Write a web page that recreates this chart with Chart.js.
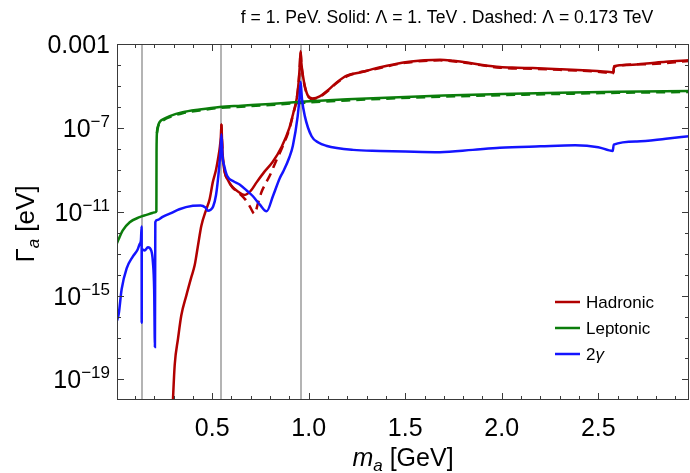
<!DOCTYPE html>
<html>
<head>
<meta charset="utf-8">
<script src="https://cdn.jsdelivr.net/npm/chart.js@4.4.1/dist/chart.umd.min.js"></script>
<style>
    body { margin: 0; background: #fff; }
    canvas { display: block; }
</style>
</head>
<body>
<canvas id="decayChart" width="690" height="473"></canvas>
<script>
/* Axion decay widths vs mass. Masses in GeV, widths stored as log10(Gamma / eV) */
const hadronicMass = [0.294, 0.297, 0.306, 0.323, 0.340, 0.366, 0.392, 0.409, 0.418, 0.432,
    0.444, 0.470, 0.487, 0.503, 0.520, 0.530, 0.540, 0.545, 0.548, 0.551,
    0.556, 0.565, 0.585, 0.606, 0.635, 0.668, 0.700, 0.730, 0.770, 0.813,
    0.860, 0.900, 0.920, 0.938, 0.948, 0.954, 0.958, 0.962, 0.970, 0.980,
    0.995, 1.020, 1.057, 1.100, 1.145, 1.200, 1.270, 1.330, 1.400, 1.500,
    1.600, 1.680, 1.750, 1.820, 1.900, 1.990, 2.080, 2.160, 2.300, 2.420,
    2.510, 2.560, 2.578, 2.582, 2.650, 2.750, 2.850, 2.970];
const hadronicLog = [-20.6, -19.95, -18.3, -17.06, -15.95, -15.0, -14.12, -13.57, -13.1, -12.3,
    -11.67, -10.87, -10.4, -9.6, -9.0, -8.5, -7.9, -7.4, -6.83, -7.6,
    -8.5, -9.1, -9.55, -9.83, -10.05, -10.2, -10.0, -9.6, -9.1, -8.63,
    -7.9, -7.0, -6.3, -5.6, -4.8, -4.0, -3.35, -3.9, -4.5, -5.0,
    -5.45, -5.6, -5.5, -5.2, -4.83, -4.5, -4.35, -4.2, -4.05, -3.87,
    -3.78, -3.75, -3.8, -3.88, -4.0, -4.1, -4.13, -4.15, -4.2, -4.25,
    -4.3, -4.33, -4.36, -4.06, -4.0, -3.93, -3.85, -3.78];

const hadronicDashMass = [0.548, 0.551, 0.556, 0.565, 0.585, 0.606, 0.640, 0.670, 0.695, 0.720,
    0.737, 0.756, 0.780, 0.800, 0.830, 0.860, 0.900, 0.920, 0.938, 0.948,
    0.954, 0.958, 0.962, 0.970, 0.980, 0.995, 1.020, 1.057, 1.100, 1.145,
    1.200, 1.330, 1.500, 1.680, 1.820, 1.990, 2.160, 2.300, 2.510, 2.578,
    2.582, 2.750, 2.970];
const hadronicDashLog = [-6.83, -7.6, -8.5, -9.1, -9.55, -9.85, -10.12, -10.4, -10.75, -11.1,
    -10.6, -10.05, -9.6, -9.25, -8.6, -8.0, -7.05, -6.33, -5.63, -4.83,
    -4.05, -3.4, -3.95, -4.55, -5.05, -5.47, -5.62, -5.52, -5.23, -4.86,
    -4.53, -4.23, -3.9, -3.78, -3.91, -4.13, -4.18, -4.23, -4.33, -4.39,
    -4.09, -3.96, -3.81];

const leptonicMass = [0.007, 0.016, 0.036, 0.073, 0.124, 0.160, 0.190, 0.205, 0.2110, 0.2114,
    0.2118, 0.2125, 0.214, 0.220, 0.228, 0.250, 0.280, 0.347, 0.435, 0.539,
    0.650, 0.800, 0.958, 1.200, 1.400, 1.700, 2.000, 2.300, 2.600, 2.970];
const leptonicLog = [-12.5, -12.3, -11.9, -11.5, -11.26, -11.15, -11.06, -11.02, -10.98, -9.5,
    -8.2, -7.6, -7.2, -6.9, -6.72, -6.57, -6.44, -6.25, -6.12, -6.0,
    -5.94, -5.86, -5.76, -5.64, -5.56, -5.46, -5.39, -5.33, -5.28, -5.24];

const leptonicDashMass = [0.214, 0.220, 0.228, 0.250, 0.280, 0.347, 0.435, 0.539, 0.650, 0.800,
    0.958, 1.200, 1.400, 1.700, 2.000, 2.300, 2.600, 2.970];
const leptonicDashLog = [-7.25, -6.95, -6.77, -6.62, -6.49, -6.3, -6.17, -6.05, -5.99, -5.91,
    -5.81, -5.69, -5.61, -5.51, -5.44, -5.38, -5.33, -5.29];

const photonMass = [0.007, 0.016, 0.031, 0.057, 0.088, 0.114, 0.124, 0.131, 0.1346, 0.1350,
    0.1354, 0.140, 0.150, 0.167, 0.185, 0.193, 0.1995, 0.2035, 0.2055, 0.215,
    0.243, 0.290, 0.330, 0.400, 0.440, 0.465, 0.478, 0.490, 0.505, 0.520,
    0.535, 0.543, 0.548, 0.553, 0.563, 0.578, 0.610, 0.642, 0.680, 0.710,
    0.746, 0.782, 0.815, 0.850, 0.867, 0.900, 0.918, 0.943, 0.952, 0.958,
    0.965, 0.980, 1.015, 1.050, 1.090, 1.230, 1.370, 1.500, 1.680, 1.850,
    1.990, 2.200, 2.380, 2.500, 2.575, 2.580, 2.700, 2.850, 2.970];
const photonLog = [-16.2, -15.87, -14.7, -13.7, -13.15, -12.8, -12.55, -12.35, -11.7, -16.3,
    -12.8, -12.8, -12.85, -12.7, -12.87, -13.4, -14.7, -17.45, -11.5, -11.4,
    -11.25, -11.05, -10.88, -10.72, -10.7, -10.8, -10.95, -10.92, -10.75, -10.2,
    -9.0, -8.1, -7.3, -8.3, -8.83, -9.3, -9.55, -9.7, -10.0, -10.25,
    -10.65, -10.98, -10.25, -9.4, -9.1, -8.4, -7.85, -6.44, -5.6, -4.8,
    -5.6, -6.44, -7.4, -7.7, -7.85, -8.05, -8.1, -8.13, -8.16, -8.05,
    -7.95, -7.88, -7.83, -7.92, -8.1, -7.8, -7.65, -7.52, -7.4];

// pi0, eta, eta' masses
const resonanceMasses = [0.135, 0.548, 0.958];

const xTickLabels = ['0.5', '1.0', '1.5', '2.0', '2.5'];
const yTickExponents = [-3, -7, -11, -15, -19];
const yTickBase = ['0.001', '10', '10', '10', '10'];
const yTickPower = ['', '\u22127', '\u221211', '\u221215', '\u221219'];

const legendLabels = ['Hadronic', 'Leptonic', '2\u03b3'];
const seriesColors = ['#b10000', '#0b7d0b', '#1414ff'];

const titleText = 'f = 1. PeV. Solid: \u039b = 1. TeV . Dashed: \u039b = 0.173 TeV';

const FONT = "'Liberation Sans', Arial, sans-serif";

function toPoints(xs, logs) {
    return xs.map(function(x, i) {
        return { x: x, y: Math.pow(10, logs[i]) };
    });
}

function curve(label, xs, logs, color, dashed) {
    return {
        label: label,
        data: toPoints(xs, logs),
        borderColor: color,
        borderWidth: 2.5,
        borderDash: dashed ? [9, 6] : [],
        pointRadius: 0,
        fill: false,
        showLine: true,
        cubicInterpolationMode: 'monotone',
        clip: 0
    };
}

// draws a run of text pieces: [text, size, italic, dy]
function drawParts(ctx, parts, x, y) {
    let cx = x;
    parts.forEach(function(p) {
        ctx.font = (p[2] ? 'italic ' : '') + p[1] + 'px ' + FONT;
        ctx.fillText(p[0], cx, y + p[3]);
        cx += ctx.measureText(p[0]).width;
    });
    return cx - x;
}
function partsWidth(ctx, parts) {
    let w = 0;
    parts.forEach(function(p) {
        ctx.font = (p[2] ? 'italic ' : '') + p[1] + 'px ' + FONT;
        w += ctx.measureText(p[0]).width;
    });
    return w;
}
function seg(ctx, x1, y1, x2, y2) {
    ctx.beginPath();
    ctx.moveTo(x1, y1);
    ctx.lineTo(x2, y2);
    ctx.stroke();
}

const frameAndText = {
    id: 'frameAndText',
    beforeDatasetsDraw(chart) {
        const ctx = chart.ctx, area = chart.chartArea, xs = chart.scales.x;
        ctx.save();
        ctx.strokeStyle = '#b4b4b4';
        ctx.lineWidth = 2;
        resonanceMasses.forEach(function(m) {
            const px = Math.round(xs.getPixelForValue(m));
            seg(ctx, px, area.top, px, area.bottom);
        });
        ctx.restore();
    },
    afterDraw(chart) {
        const ctx = chart.ctx, area = chart.chartArea;
        const xs = chart.scales.x, ys = chart.scales.y;
        ctx.save();

        // frame with inward ticks on all four sides
        ctx.strokeStyle = '#3a3a3a';
        ctx.lineWidth = 1;
        ctx.strokeRect(area.left + 0.5, area.top + 0.5, area.right - area.left - 1, area.bottom - area.top - 1);
        for (let i = 1; i < 30; i++) {
            const v = i / 10;
            if (v < xs.min || v > xs.max) continue;
            const px = Math.round(xs.getPixelForValue(v)) + 0.5;
            const len = i % 5 === 0 ? 7 : 4;
            seg(ctx, px, area.bottom, px, area.bottom - len);
            seg(ctx, px, area.top, px, area.top + len);
        }
        for (let e = -19; e <= -3; e++) {
            const py = Math.round(ys.getPixelForValue(Math.pow(10, e))) + 0.5;
            const len = yTickExponents.indexOf(e) >= 0 ? 7 : 4;
            seg(ctx, area.left, py, area.left + len, py);
            seg(ctx, area.right, py, area.right - len, py);
        }

        ctx.fillStyle = '#000';
        ctx.textBaseline = 'alphabetic';

        // x tick labels
        ctx.font = '25px ' + FONT;
        ctx.textAlign = 'center';
        xTickLabels.forEach(function(t) {
            ctx.fillText(t, xs.getPixelForValue(parseFloat(t)), 436);
        });

        // y tick labels
        ctx.textAlign = 'left';
        yTickExponents.forEach(function(e, i) {
            const py = ys.getPixelForValue(Math.pow(10, e));
            const parts = [[yTickBase[i], 25, false, 9]];
            if (yTickPower[i]) parts.push([yTickPower[i], 17, false, -1]);
            const w = partsWidth(ctx, parts);
            drawParts(ctx, parts, area.left - 7 - w, py);
        });

        // title
        ctx.font = '17.6px ' + FONT;
        ctx.textAlign = 'center';
        ctx.fillText(titleText, 447, 23);
        ctx.textAlign = 'left';

        // x axis title
        const xTitle = [['m', 25, true, 0], ['a', 17, true, 5], [' [GeV]', 25, false, 0]];
        drawParts(ctx, xTitle, (area.left + area.right) / 2 - partsWidth(ctx, xTitle) / 2, 466);

        // y axis title
        const yTitle = [['\u0393', 26, false, 0], ['a', 17, true, 5], [' [eV]', 26, false, 0]];
        ctx.save();
        ctx.translate(34, 224);
        ctx.rotate(-Math.PI / 2);
        drawParts(ctx, yTitle, -partsWidth(ctx, yTitle) / 2, 0);
        ctx.restore();

        // legend
        const legendY = [302, 328, 354];
        legendLabels.forEach(function(name, i) {
            ctx.strokeStyle = seriesColors[i];
            ctx.lineWidth = 2.5;
            seg(ctx, 555, legendY[i], 580, legendY[i]);
            const parts = name.split(/(\u03b3)/).filter(function(s) { return s; }).map(function(s) {
                return [s, 17, s === '\u03b3', 6];
            });
            drawParts(ctx, parts, 586, legendY[i]);
        });

        ctx.restore();
    }
};

const ctx = document.getElementById('decayChart').getContext('2d');
const chart = new Chart(ctx, {
    type: 'scatter',
    data: {
        datasets: [
            curve('2\u03b3', photonMass, photonLog, seriesColors[2], false),
            curve('Leptonic', leptonicMass, leptonicLog, seriesColors[1], false),
            curve('Hadronic', hadronicMass, hadronicLog, seriesColors[0], false),
            curve('Leptonic dashed', leptonicDashMass, leptonicDashLog, seriesColors[1], true),
            curve('Hadronic dashed', hadronicDashMass, hadronicDashLog, seriesColors[0], true)
        ]
    },
    options: {
        responsive: false,
        animation: false,
        devicePixelRatio: 1,
        events: [],
        layout: {
            padding: { top: 44, left: 117, right: 1, bottom: 73 }
        },
        scales: {
            x: { type: 'linear', min: 0.007, max: 2.97, display: false },
            y: { type: 'logarithmic', min: Math.pow(10, -19.98), max: 1e-3, display: false }
        },
        plugins: {
            legend: { display: false },
            tooltip: { enabled: false }
        }
    },
    plugins: [frameAndText]
});
</script>
</body>
</html>
